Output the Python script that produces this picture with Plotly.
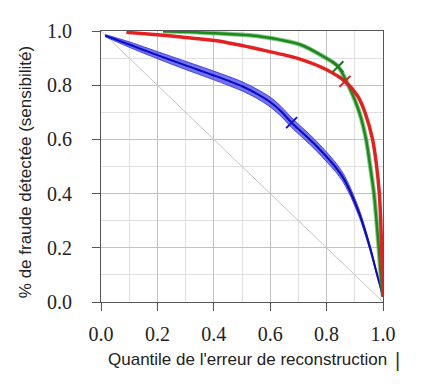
import plotly.graph_objects as go

# ---- data ----
blue_x = [0.015, 0.1, 0.2, 0.3, 0.4, 0.5, 0.55, 0.6, 0.64, 0.676, 0.757, 0.83, 0.859, 0.885, 0.92, 0.954, 0.978, 1.0]
blue_y = [0.983, 0.95, 0.911, 0.873, 0.836, 0.796, 0.77, 0.738, 0.702, 0.662, 0.583, 0.5, 0.458, 0.405, 0.315, 0.2, 0.105, 0.02]
blue_err = [0.004, 0.01, 0.013, 0.015, 0.016, 0.017, 0.017, 0.018, 0.018, 0.018, 0.018, 0.017, 0.016, 0.015, 0.013, 0.01, 0.006, 0.0]

green_x = [0.22, 0.3, 0.4, 0.5, 0.564, 0.706, 0.79, 0.84, 0.877, 0.916, 0.94, 0.954, 0.968, 0.977, 0.985, 0.992, 1.0]
green_y = [0.999, 0.997, 0.992, 0.986, 0.98, 0.95, 0.905, 0.87, 0.8, 0.7, 0.6, 0.505, 0.4, 0.3, 0.2, 0.1, 0.02]

red_x = [0.09, 0.2, 0.3, 0.41, 0.564, 0.7, 0.8, 0.865, 0.91, 0.936, 0.963, 0.977, 0.987, 0.992, 0.995, 0.998, 1.0]
red_y = [0.995, 0.986, 0.976, 0.964, 0.932, 0.898, 0.857, 0.814, 0.76, 0.7, 0.6, 0.505, 0.4, 0.3, 0.2, 0.1, 0.02]

diag_x = [0.0, 1.0]
diag_y = [1.0, 0.0]

marker_x = [0.676, 0.84, 0.865]
marker_y = [0.662, 0.868, 0.814]
marker_colors = ["#1515c8", "#1a7f1a", "#d42020"]

tick_vals = [0.0, 0.2, 0.4, 0.6, 0.8, 1.0]
tick_text = ["0.0", "0.2", "0.4", "0.6", "0.8", "1.0"]

x_title = "Quantile de l'erreur de reconstruction"
y_title = "% de fraude détectée (sensibilité)"

fig = go.Figure()

# diagonal reference line
fig.add_trace(go.Scatter(x=diag_x, y=diag_y, mode="lines",
                         line=dict(color="#c4c4c4", width=1), hoverinfo="skip"))

# blue band
upper = [y + e for y, e in zip(blue_y, blue_err)]
lower = [y - e for y, e in zip(blue_y, blue_err)]
fig.add_trace(go.Scatter(x=blue_x + blue_x[::-1], y=upper + lower[::-1], mode="lines",
                         fill="toself", fillcolor="rgba(70,70,235,0.75)",
                         line=dict(color="rgba(60,60,230,0.9)", width=1, shape="spline", smoothing=0.8),
                         hoverinfo="skip"))
fig.add_trace(go.Scatter(x=blue_x, y=blue_y, mode="lines",
                         line=dict(color="#0a0ac0", width=2, shape="spline", smoothing=0.8)))

# green curve
fig.add_trace(go.Scatter(x=green_x, y=green_y, mode="lines",
                         line=dict(color="rgba(50,150,50,0.55)", width=4.5, shape="spline", smoothing=0.8),
                         hoverinfo="skip"))
fig.add_trace(go.Scatter(x=green_x, y=green_y, mode="lines",
                         line=dict(color="#1a8a1a", width=2.5, shape="spline", smoothing=0.8)))

# red curve
fig.add_trace(go.Scatter(x=red_x, y=red_y, mode="lines",
                         line=dict(color="#e62020", width=3.5, shape="spline", smoothing=0.8)))

# markers
fig.add_trace(go.Scatter(x=marker_x, y=marker_y, mode="markers",
                         marker=dict(symbol="x-thin", size=11,
                                     line=dict(color=marker_colors, width=2))))

axis_common = dict(
    range=[0, 1],
    tickvals=tick_vals,
    ticktext=tick_text,
    ticks="outside",
    ticklen=8,
    tickwidth=1,
    tickcolor="#555555",
    showline=True,
    linecolor="#555555",
    linewidth=1,
    mirror=True,
    showgrid=True,
    gridcolor="#c2c2c2",
    gridwidth=1,
    zeroline=False,
    tickfont=dict(family="Liberation Serif", size=20, color="#222222"),
    minor=dict(dtick=0.1, showgrid=True, gridcolor="#e0e0e0", gridwidth=1, ticks=""),
)

fig.update_xaxes(**axis_common, ticklabelstandoff=6)
fig.update_yaxes(**axis_common, ticklabelstandoff=16)

# page body has an 8px default margin, so the figure is sized/offset to compensate
fig.update_layout(
    width=415, height=376,
    margin=dict(l=93, r=40, t=13, b=82),
    paper_bgcolor="white",
    plot_bgcolor="white",
    showlegend=False,
    annotations=[
        dict(text=x_title, x=0.518, y=-0.2135, xref="paper", yref="paper",
             xanchor="center", yanchor="middle", showarrow=False,
             font=dict(family="Liberation Sans", size=17, color="#222222")),
        dict(text="|", x=1.053, y=-0.2135, xref="paper", yref="paper",
             xanchor="center", yanchor="middle", showarrow=False,
             font=dict(family="Liberation Sans", size=20, color="#333333")),
        dict(text=y_title, x=-0.2695, y=0.479, xref="paper", yref="paper",
             xanchor="center", yanchor="middle", showarrow=False, textangle=-90,
             font=dict(family="Liberation Sans", size=17, color="#222222")),
    ],
)

fig.write_html("out.html")
